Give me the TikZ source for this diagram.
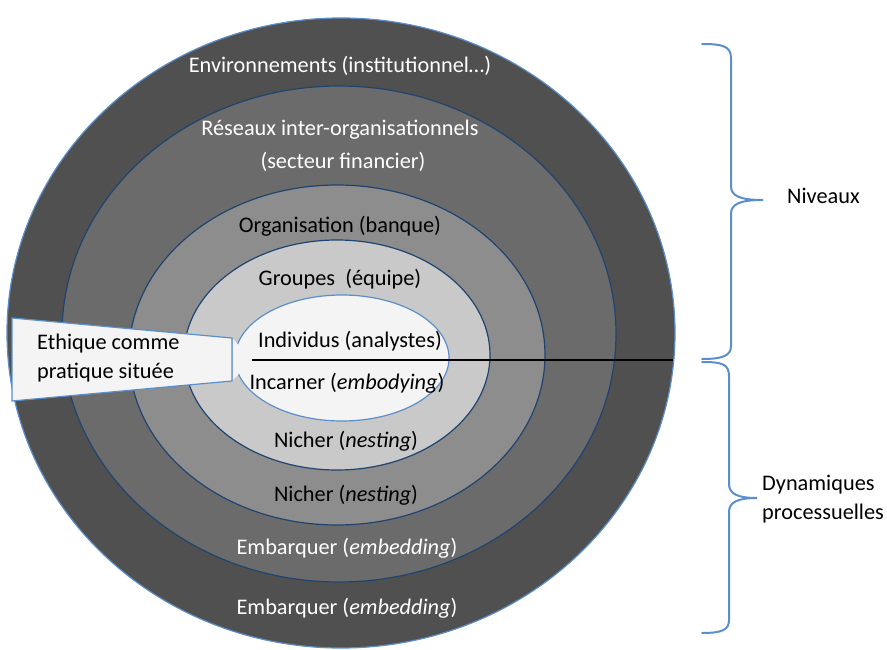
\documentclass[tikz,border=0pt]{standalone}
\usepackage{fontspec}
\setmainfont{Carlito}
\usepackage{tikz}

\definecolor{ringA}{HTML}{505050}
\definecolor{ringB}{HTML}{6B6B6B}
\definecolor{ringC}{HTML}{8D8D8D}
\definecolor{ringD}{HTML}{C9C9C9}
\definecolor{ringE}{HTML}{F4F4F4}
\definecolor{lineblue}{HTML}{5B8FCB}
\definecolor{navy}{HTML}{1F4470}

\begin{document}
\begin{tikzpicture}[
		x=1pt, y=-1pt,
		ring/.style={draw=navy, line width=1.2pt},
		lbl/.style={font=\fontsize{22.3}{29}\selectfont, inner sep=0pt, anchor=base},
		wlbl/.style={lbl, text=white},
		bracepath/.style={draw=lineblue, line width=2pt, line cap=round}
	]
  \useasboundingbox (0,0) rectangle (887,650);
  % rings, outside in
  \fill[ringA] (341,333) ellipse [x radius=334, y radius=315];
  \draw[lineblue, line width=1.2pt] (341,333) ellipse [x radius=334, y radius=315];
  \draw[ring, fill=ringB] (339,334) ellipse [x radius=277, y radius=248];
  \draw[ring, fill=ringC] (337,355) ellipse [x radius=208, y radius=170];
  \draw[ring, fill=ringD] (337,355) ellipse [x radius=153, y radius=115];
  \draw[draw=lineblue, line width=1.2pt, fill=ringE] (342,358) ellipse [x radius=107, y radius=63];

  \node (env) [wlbl] at (340,73) {Environnements (institutionnel…)};
  \node (res) [wlbl] at (340,136) {Réseaux inter-organisationnels};
  \node (sect) [wlbl] at (343,169) {(secteur financier)};
  \node (org) [lbl] at (340,233) {Organisation (banque)};
  \node (grp) [lbl] at (340,285) {Groupes\ \ (équipe)};
  \node (ind) [lbl] at (350,347) {Individus (analystes)};
  \node (inc) [lbl] at (347,389) {Incarner (\textit{embodying})};
  \node (nich1) [lbl] at (346,447) {Nicher (\textit{nesting})};
  \node (nich2) [lbl] at (346,501) {Nicher (\textit{nesting})};
  \node (emb1) [wlbl] at (347,554) {Embarquer (\textit{embedding})};
  \node (emb2) [wlbl] at (347,614) {Embarquer (\textit{embedding})};

  % separation line
  \coordinate (sepL) at (252,360);
  \coordinate (sepR) at (673,360);
  \draw[line width=2pt] (sepL) -- (sepR);

  % callout
  \draw[lineblue, line width=1.2pt, fill=ringE] (12,318) -- (232,338) -- (232,381) -- (12,401) -- cycle;
  \fill[ringE] (233,339) -- (252,360) -- (233,380) -- cycle;
  \node (eth) [lbl, anchor=base west, align=left] at (37,378) {Ethique comme\\pratique située};

  % braces
  \draw[bracepath] (702,44) .. controls (722,44) and (731,46) .. (731,58) -- (731,186)
    .. controls (731,196) and (740,200) .. (763,200) .. controls (740,200) and (731,204) .. (731,214)
    -- (731,346) .. controls (731,356) and (722,359) .. (702,359);
  \draw[bracepath] (702,362) .. controls (722,362) and (729,364) .. (729,376) -- (729,484)
    .. controls (729,494) and (738,498) .. (757,498) .. controls (738,498) and (729,502) .. (729,512)
    -- (729,620) .. controls (729,630) and (722,633) .. (702,633);

  \node (niv) [lbl, anchor=base west] at (787,204) {Niveaux};
  \node (dyn) [lbl, anchor=base west, align=left] at (762,519) {Dynamiques\\processuelles};
\end{tikzpicture}
\end{document}
